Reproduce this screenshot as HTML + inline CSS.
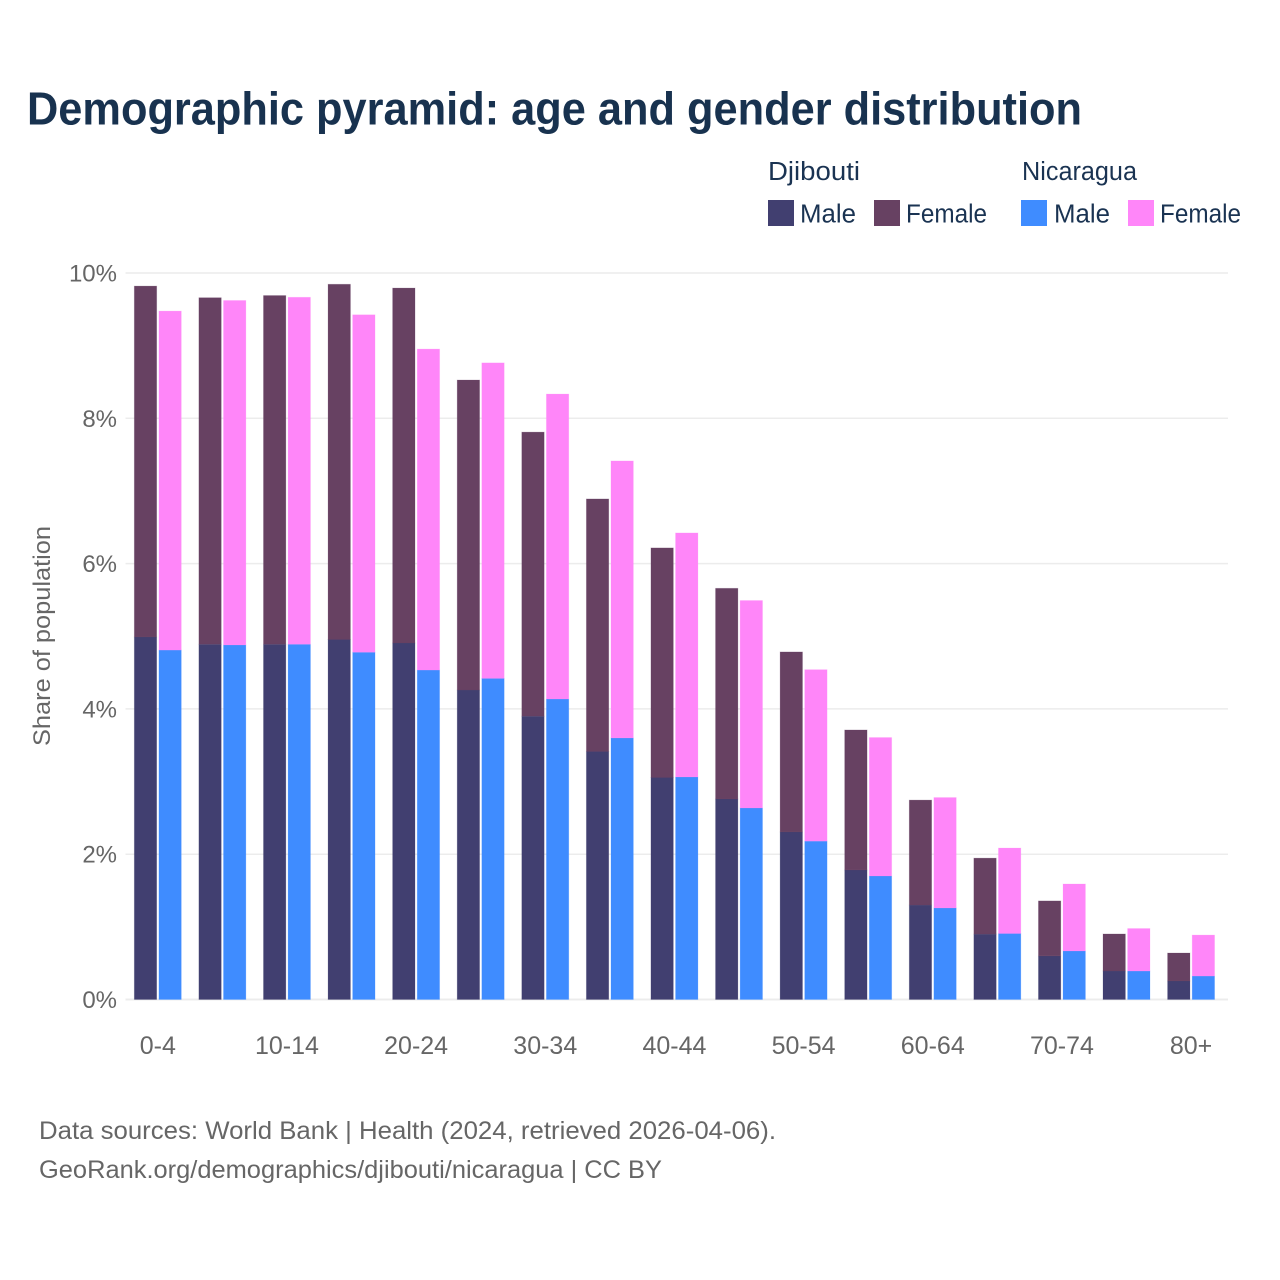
<!DOCTYPE html>
<html lang="en">
<head>
<meta charset="utf-8">
<title>Demographic pyramid: age and gender distribution</title>
<style>
html,body{margin:0;padding:0;background:#fff;}
svg{display:block;font-family:"Liberation Sans",sans-serif;}
</style>
</head>
<body>
<svg id="chart" xmlns="http://www.w3.org/2000/svg" width="1280" height="1280" viewBox="0 0 1280 1280">
  <rect x="0" y="0" width="1280" height="1280" fill="#ffffff"/>
  <text x="27" y="124.5" font-size="46" font-weight="700" fill="#18324f" textLength="1055" lengthAdjust="spacingAndGlyphs">Demographic pyramid: age and gender distribution</text>

  <g font-size="25.5" fill="#1a3352">
    <text x="768" y="180" textLength="92" lengthAdjust="spacingAndGlyphs">Djibouti</text>
    <text x="1022" y="180" textLength="115" lengthAdjust="spacingAndGlyphs">Nicaragua</text>
    <rect x="768" y="200" width="26" height="26" fill="#413f70"/>
    <text x="800" y="222.5" textLength="56" lengthAdjust="spacingAndGlyphs">Male</text>
    <rect x="874" y="200" width="26" height="26" fill="#674162"/>
    <text x="906" y="222.5" textLength="81" lengthAdjust="spacingAndGlyphs">Female</text>
    <rect x="1021" y="200" width="26" height="26" fill="#3f8cff"/>
    <text x="1054" y="222.5" textLength="56" lengthAdjust="spacingAndGlyphs">Male</text>
    <rect x="1128" y="200" width="26" height="26" fill="#ff86f9"/>
    <text x="1160" y="222.5" textLength="81" lengthAdjust="spacingAndGlyphs">Female</text>
  </g>

  <g id="grid"></g>
  <g id="bars"></g>
  <g id="yticks"></g>
  <g id="xticks"></g>

  <text transform="translate(50,636) rotate(-90)" text-anchor="middle" font-size="24" fill="#666666" textLength="220" lengthAdjust="spacingAndGlyphs">Share of population</text>

  <text x="39" y="1139" font-size="25" fill="#666666" textLength="737" lengthAdjust="spacingAndGlyphs">Data sources: World Bank | Health (2024, retrieved 2026-04-06).</text>
  <text x="39" y="1178" font-size="25" fill="#666666" textLength="623" lengthAdjust="spacingAndGlyphs">GeoRank.org/demographics/djibouti/nicaragua | CC BY</text>
</svg>
<script>
var categories = ["0-4","5-9","10-14","15-19","20-24","25-29","30-34","35-39","40-44","45-49","50-54","55-59","60-64","65-69","70-74","75-79","80+"];
var xTickLabels = ["0-4","10-14","20-24","30-34","40-44","50-54","60-64","70-74","80+"];
var yTickValues = [0,2,4,6,8,10];
var djiboutiMale = [4.99,4.89,4.89,4.955,4.907,4.26,3.90,3.414,3.056,2.76,2.306,1.783,1.30,0.90,0.60,0.392,0.255];
var djiboutiFemale = [4.83,4.77,4.80,4.89,4.886,4.267,3.91,3.476,3.16,2.90,2.478,1.927,1.445,1.046,0.757,0.51,0.385];
var nicaraguaMale = [4.81,4.88,4.89,4.78,4.535,4.42,4.136,3.60,3.063,2.636,2.18,1.70,1.26,0.908,0.668,0.392,0.323];
var nicaraguaFemale = [4.666,4.742,4.776,4.645,4.418,4.343,4.198,3.813,3.359,2.856,2.36,1.906,1.52,1.177,0.922,0.585,0.564];

var NS = 'http://www.w3.org/2000/svg';
var plotLeft = 125.5, plotRight = 1228;
var y0 = 999.5, y10 = 273;
var firstCenter = 157.8, step = 64.58, barW = 22.4, barGap = 2.2;
function yScale(v){ return y0 + (y10 - y0) * v / 10; }
function xCenter(i){ return firstCenter + step * i; }
function mk(tag, parent, attrs){
  var el = document.createElementNS(NS, tag);
  for (var k in attrs) el.setAttribute(k, attrs[k]);
  parent.appendChild(el);
  return el;
}
var grid = document.getElementById('grid');
var yticks = document.getElementById('yticks');
var xticks = document.getElementById('xticks');
var bars = document.getElementById('bars');

yTickValues.forEach(function(v){
  var line = mk('line', grid, {x1:plotLeft, x2:plotRight, y1:yScale(v), y2:yScale(v), stroke:'#ececec', 'stroke-width': v === 0 ? 2 : 1.5});
  
  
  var t = mk('text', yticks, {x:117, y:yScale(v) + 8.5, 'text-anchor':'end', 'font-size':24, fill:'#666666'});
  
  
  t.textContent = v + '%';
});

xTickLabels.forEach(function(label){
  var i = categories.indexOf(label);
  var t = mk('text', xticks, {x:xCenter(i), y:1054, 'text-anchor':'middle', 'font-size':25, fill:'#666666'});
  
  
  t.textContent = label;
});

function drawRect(x, v0, v1, fill, name){
  var top = yScale(v1), bottom = yScale(v0);
  var r = mk('rect', bars, {x:x, y:top, width:barW, height:bottom - top, fill:fill, stroke:fill, 'stroke-opacity':0.25, 'stroke-width':0.8});
  
  
}
categories.forEach(function(cat, i){
  var c = xCenter(i);
  var xD = c - barW - barGap / 2;
  var xN = c + barGap / 2;
  drawRect(xD, 0, djiboutiMale[i], '#413f70', 'bar-djibouti-male-' + cat);
  drawRect(xD, djiboutiMale[i], djiboutiMale[i] + djiboutiFemale[i], '#674162', 'bar-djibouti-female-' + cat);
  drawRect(xN, 0, nicaraguaMale[i], '#3f8cff', 'bar-nicaragua-male-' + cat);
  drawRect(xN, nicaraguaMale[i], nicaraguaMale[i] + nicaraguaFemale[i], '#ff86f9', 'bar-nicaragua-female-' + cat);
});
</script>
</body>
</html>
